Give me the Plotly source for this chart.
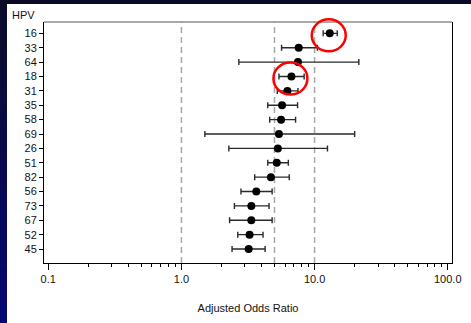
import math
import plotly.graph_objects as go

# ---- data ----
hpv_types = ["16", "33", "64", "18", "31", "35", "58", "69",
             "26", "51", "82", "56", "73", "67", "52", "45"]
odds_ratio = [13.0, 7.6, 7.5, 6.7, 6.25, 5.7, 5.6, 5.4,
              5.3, 5.2, 4.7, 3.65, 3.35, 3.35, 3.25, 3.2]
ci_low = [11.6, 5.65, 2.7, 5.4, 5.25, 4.45, 4.6, 1.5,
          2.27, 4.45, 3.55, 2.8, 2.5, 2.3, 2.65, 2.4]
ci_high = [14.8, 10.5, 21.5, 8.35, 7.5, 7.45, 7.2, 20.0,
           12.5, 6.35, 6.45, 4.8, 4.55, 4.8, 4.1, 4.25]
x_tick_values = [0.1, 1, 10, 100]
x_tick_labels = ["0.1", "1.0", "10.0", "100.0"]
reference_lines = [1, 5, 10]
highlighted_types = ["16", "18"]

FONT = "Liberation Sans, Arial, sans-serif"
rows = list(range(len(hpv_types)))
X_RANGE = [-1.032, 2.032]          # log10 units
Y_RANGE = [15.97, -0.79]

fig = go.Figure()

fig.add_trace(go.Scatter(
    x=odds_ratio, y=rows, mode="markers",
    marker=dict(color="black", size=8),
    error_x=dict(type="data", symmetric=False,
                 array=[h - v for h, v in zip(ci_high, odds_ratio)],
                 arrayminus=[v - l for v, l in zip(odds_ratio, ci_low)],
                 color="#2a2a2a", thickness=1.4, width=3),
    showlegend=False, hoverinfo="skip",
))

shapes = []
# dashed reference lines
for v in reference_lines:
    shapes.append(dict(type="line", xref="x", yref="paper",
                       x0=v, x1=v, y0=0, y1=1,
                       line=dict(color="#a8a8a8", width=1.5, dash="6px,4px"),
                       layer="below"))
# gray top border
shapes.append(dict(type="line", xref="paper", yref="paper", x0=0, x1=1, y0=1, y1=1,
                   line=dict(color="#8c8c8c", width=1.5)))
# red highlight circles (anchored at the data point via the axis ranges)
for t in highlighted_types:
    i = hpv_types.index(t)
    ax = (math.log10(odds_ratio[i]) - X_RANGE[0]) / (X_RANGE[1] - X_RANGE[0])
    ay = (Y_RANGE[0] - i) / (Y_RANGE[0] - Y_RANGE[1])
    shapes.append(dict(type="circle", xref="paper", yref="paper",
                       xsizemode="pixel", ysizemode="pixel",
                       xanchor=ax, yanchor=ay,
                       x0=-18, x1=16, y0=-18, y1=14,
                       line=dict(color="#ff0000", width=2.5)))
# navy frame: top band and left gradient band
shapes.append(dict(type="rect", xref="paper", yref="paper",
                   xsizemode="pixel", ysizemode="pixel",
                   xanchor=0, yanchor=1, x0=-45, x1=430, y0=18, y1=23,
                   fillcolor="rgb(10,10,38)", line=dict(width=0), layer="below"))
n_steps = 30
total_h = 323
for k in range(n_steps):
    f = k / (n_steps - 1)
    r = int(12 - 6 * f)
    g = int(12 - 6 * f)
    b = int(40 + 75 * f)
    top = 22 - k * total_h / n_steps
    shapes.append(dict(type="rect", xref="paper", yref="paper",
                       xsizemode="pixel", ysizemode="pixel",
                       xanchor=0, yanchor=1, x0=-45, x1=-37,
                       y0=top - total_h / n_steps - 1, y1=top,
                       fillcolor=f"rgb({r},{g},{b})", line=dict(width=0),
                       layer="below"))

minor_vals = [m * 10 ** e for e in (-1, 0, 1) for m in range(2, 10)]

fig.update_layout(
    width=471, height=323,
    margin=dict(l=44, r=10, t=22, b=60),
    paper_bgcolor="white", plot_bgcolor="white",
    font=dict(family=FONT, size=11, color="#111"),
    shapes=shapes,
    xaxis=dict(
        type="log", range=X_RANGE,
        tickvals=x_tick_values, ticktext=x_tick_labels,
        ticks="outside", ticklen=6, tickwidth=1, tickcolor="black",
        minor=dict(tickvals=minor_vals, ticks="outside", ticklen=3,
                   tickcolor="black", showgrid=False),
        showgrid=False, zeroline=False,
        showline=True, linecolor="black", linewidth=1, mirror=False,
        title=dict(text="Adjusted Odds Ratio", font=dict(size=11), standoff=20),
    ),
    yaxis=dict(
        range=Y_RANGE, tickvals=rows, ticktext=hpv_types,
        ticks="outside", ticklen=4, tickwidth=1, tickcolor="black",
        showgrid=False, zeroline=False,
        showline=True, linecolor="black", linewidth=1, mirror=True,
    ),
    annotations=[dict(text="HPV", xref="paper", yref="paper",
                      xanchor="left", yanchor="middle",
                      x=0, y=1, xshift=-34, yshift=7, showarrow=False,
                      font=dict(size=11, family=FONT))],
)

fig.write_html("out.html", config={"displayModeBar": False},
               post_script="document.body.style.margin='0';document.body.style.overflow='hidden';")
